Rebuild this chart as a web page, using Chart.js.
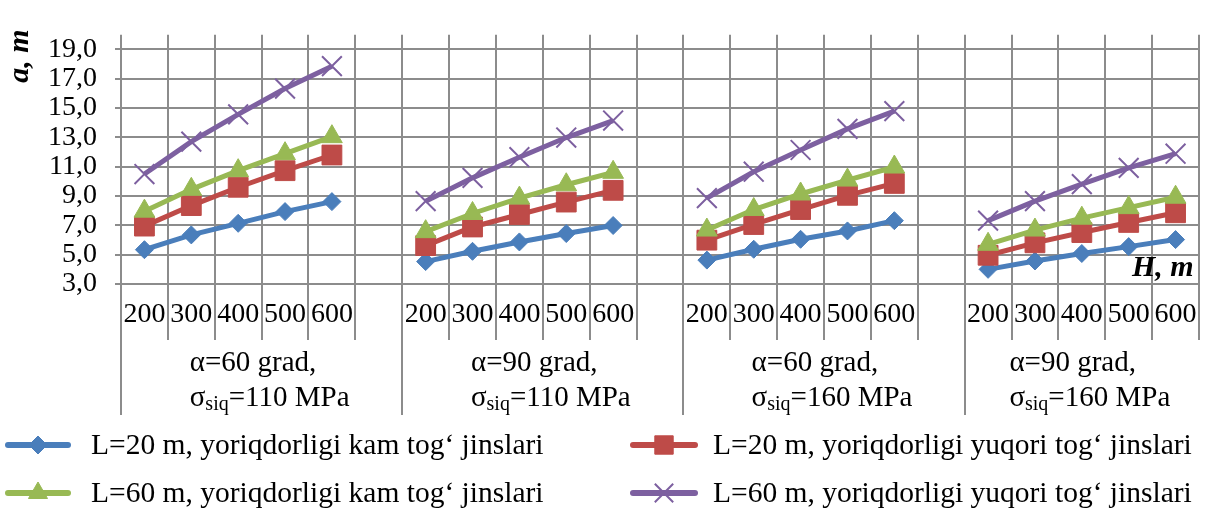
<!DOCTYPE html>
<html><head><meta charset="utf-8">
<script src="https://cdn.jsdelivr.net/npm/chart.js@4.4.0/dist/chart.umd.min.js"></script>
<style>html,body{margin:0;padding:0;background:#fff}</style>
</head><body>
<canvas id="c" width="1215" height="508" style="display:block;width:1215px;height:508px"></canvas>
<script>
// ---- data ----
const depthLabels = ['200', '300', '400', '500', '600'];
const groupLine1 = ['α=60 grad,', 'α=90 grad,', 'α=60 grad,', 'α=90 grad,'];
const groupSigma = ['110', '110', '160', '160'];
const yTickValues = [3, 5, 7, 9, 11, 13, 15, 17, 19];
const seriesNames = [
  'L=20 m, yoriqdorligi kam tog‘ jinslari',
  'L=20 m, yoriqdorligi yuqori tog‘ jinslari',
  'L=60 m, yoriqdorligi kam tog‘ jinslari',
  'L=60 m, yoriqdorligi yuqori tog‘ jinslari'
];
const l20kam = [[5.34, 6.35, 7.14, 7.94, 8.62], [4.53, 5.23, 5.87, 6.44, 6.99], [4.63, 5.37, 6.05, 6.62, 7.32], [4.00, 4.57, 5.08, 5.55, 6.03]];
const l20yuqori = [[6.95, 8.35, 9.60, 10.73, 11.80], [5.62, 6.89, 7.74, 8.59, 9.39], [5.99, 7.06, 8.08, 9.05, 9.86], [4.96, 5.81, 6.51, 7.20, 7.86]];
const l60kam = [[7.97, 9.46, 10.73, 11.89, 13.05], [6.57, 7.81, 8.86, 9.77, 10.62], [6.68, 8.08, 9.14, 10.09, 10.98], [5.71, 6.68, 7.49, 8.21, 8.92]];
const l60yuqori = [[10.50, 12.71, 14.57, 16.33, 17.86], [8.65, 10.24, 11.65, 12.99, 14.15], [8.86, 10.66, 12.14, 13.58, 14.79], [7.32, 8.65, 9.81, 10.92, 11.89]];

// ---- build category axis with a blank slot between groups ----
const categories = [];
for (let g = 0; g < groupLine1.length; g++) {
  categories.push(...depthLabels);
  if (g < groupLine1.length - 1) categories.push('');
}
function flatten(groups) {
  const out = [];
  groups.forEach((arr, g) => { out.push(...arr); if (g < groups.length - 1) out.push(null); });
  return out;
}

const SERIF = "'Liberation Serif', 'Times New Roman', serif";
const canvas = document.getElementById('c');

const styles = [
  { color: '#4A7EBB', point: 'rectRot', r: 9, bw: 1, lr: 9 },
  { color: '#BE4B48', point: 'rect', r: 14, bw: 1, lr: 13 },
  { color: '#98B954', point: 'triangle', r: 12, bw: 1, lr: 11 },
  { color: '#7D60A0', point: 'crossRot', r: 14, bw: 2, lr: 13 }
];
const allSeries = [l20kam, l20yuqori, l60kam, l60yuqori];

const datasets = allSeries.map((s, i) => ({
  label: seriesNames[i],
  data: flatten(s),
  borderColor: styles[i].color,
  backgroundColor: styles[i].color,
  borderWidth: 5,
  pointStyle: styles[i].point,
  pointRadius: styles[i].r,
  pointBorderWidth: styles[i].bw,
  pointBorderColor: styles[i].color,
  pointBackgroundColor: styles[i].color,
  tension: 0,
  spanGaps: false,
  order: 4 - i
}));

const GRID = '#8c8c8c';
const AXIS_H = 131;

const decorPlugin = {
  id: 'decor',
  afterDraw(chart) {
    const ctx = chart.ctx;
    const xs = chart.scales.x;
    const area = chart.chartArea;
    const w = xs.getPixelForValue(1) - xs.getPixelForValue(0);
    const bottom = area.bottom + AXIS_H;
    ctx.save();
    // group separators
    const starts = [];
    for (let g = 0; g < groupLine1.length; g++) starts.push(xs.getPixelForValue(g * 6) - w / 2);
    ctx.strokeStyle = GRID;
    ctx.lineWidth = 2;
    starts.forEach(x => {
      ctx.beginPath(); ctx.moveTo(Math.round(x), area.bottom); ctx.lineTo(Math.round(x), bottom); ctx.stroke();
    });
    // group labels
    ctx.fillStyle = '#000';
    ctx.textBaseline = 'middle';
    ctx.textAlign = 'left';
    const fMain = '29px ' + SERIF;
    const fSub = '20px ' + SERIF;
    for (let g = 0; g < groupLine1.length; g++) {
      const x0 = starts[g];
      const x1 = g < groupLine1.length - 1 ? starts[g + 1] : area.right;
      const cx = (x0 + x1) / 2 + 8;
      ctx.font = fMain;
      const w1 = ctx.measureText(groupLine1[g]).width;
      const wS = ctx.measureText('σ').width;
      const wRest = ctx.measureText('=' + groupSigma[g] + ' MPa').width;
      ctx.font = fSub;
      const wSub = ctx.measureText('siq').width;
      const w2 = wS + wSub + wRest;
      const left = cx - Math.max(w1, w2) / 2;
      ctx.font = fMain;
      ctx.fillText(groupLine1[g], left, 363);
      ctx.fillText('σ', left, 398);
      ctx.font = fSub;
      ctx.fillText('siq', left + wS, 405);
      ctx.font = fMain;
      ctx.fillText('=' + groupSigma[g] + ' MPa', left + wS + wSub, 398);
    }
    // axis titles
    ctx.font = 'bold italic 30px ' + SERIF;
    ctx.textAlign = 'center';
    ctx.save();
    ctx.translate(20, 56);
    ctx.rotate(-Math.PI / 2);
    ctx.fillText('a, m', 0, 0);
    ctx.restore();
    ctx.textAlign = 'left';
    ctx.textBaseline = 'alphabetic';
    ctx.fillText('H, m', 1132, 276);
    // legend
    const cols = [{ lx0: 8, lx1: 68, tx: 91 }, { lx0: 633, lx1: 695, tx: 713 }];
    const rows = [445, 493];
    const order = [[0, 0, 0], [1, 0, 1], [2, 1, 0], [3, 1, 1]];
    ctx.textBaseline = 'middle';
    ctx.font = '29.5px ' + SERIF;
    order.forEach(([i, row, col]) => {
      const c = cols[col];
      const y = rows[row];
      const st = styles[i];
      ctx.strokeStyle = st.color;
      ctx.lineWidth = 6;
      ctx.lineCap = 'round';
      ctx.beginPath(); ctx.moveTo(c.lx0, y); ctx.lineTo(c.lx1, y); ctx.stroke();
      ctx.fillStyle = st.color;
      ctx.lineWidth = st.bw;
      ctx.lineCap = 'butt';
      Chart.helpers.drawPoint(ctx, { pointStyle: st.point, radius: st.lr, borderWidth: st.bw, rotation: 0 }, (c.lx0 + c.lx1) / 2, y);
      ctx.fillStyle = '#000';
      ctx.fillText(seriesNames[i], c.tx, y + 1);
    });
    ctx.restore();
  }
};

new Chart(canvas, {
  type: 'line',
  data: { labels: categories, datasets },
  plugins: [decorPlugin],
  options: {
    responsive: false,
    animation: false,
    devicePixelRatio: 1,
    layout: { padding: { left: 0, right: 2, top: 16, bottom: 93 } },
    plugins: { legend: { display: false }, tooltip: { enabled: false } },
    scales: {
      x: {
        type: 'category',
        offset: true,
        grid: { offset: true, color: GRID, lineWidth: 2, tickLength: 56, tickColor: GRID },
        border: { display: false },
        ticks: { autoSkip: false, maxRotation: 0, minRotation: 0, padding: -42, color: '#000', font: { family: SERIF, size: 28 } },
        afterFit(s) { s.height = AXIS_H; }
      },
      y: {
        min: 3, max: 20,
        afterBuildTicks(s) { s.ticks = yTickValues.map(v => ({ value: v })); },
        grid: { color: GRID, lineWidth: 2, tickLength: 6, tickColor: GRID },
        border: { display: false },
        ticks: {
          autoSkip: false,
          padding: 18, color: '#000', font: { family: SERIF, size: 28 },
          callback: v => Number(v).toFixed(1).replace('.', ',')
        },
        afterFit(s) { s.width = 121; }
      }
    }
  }
});
</script>
</body></html>
